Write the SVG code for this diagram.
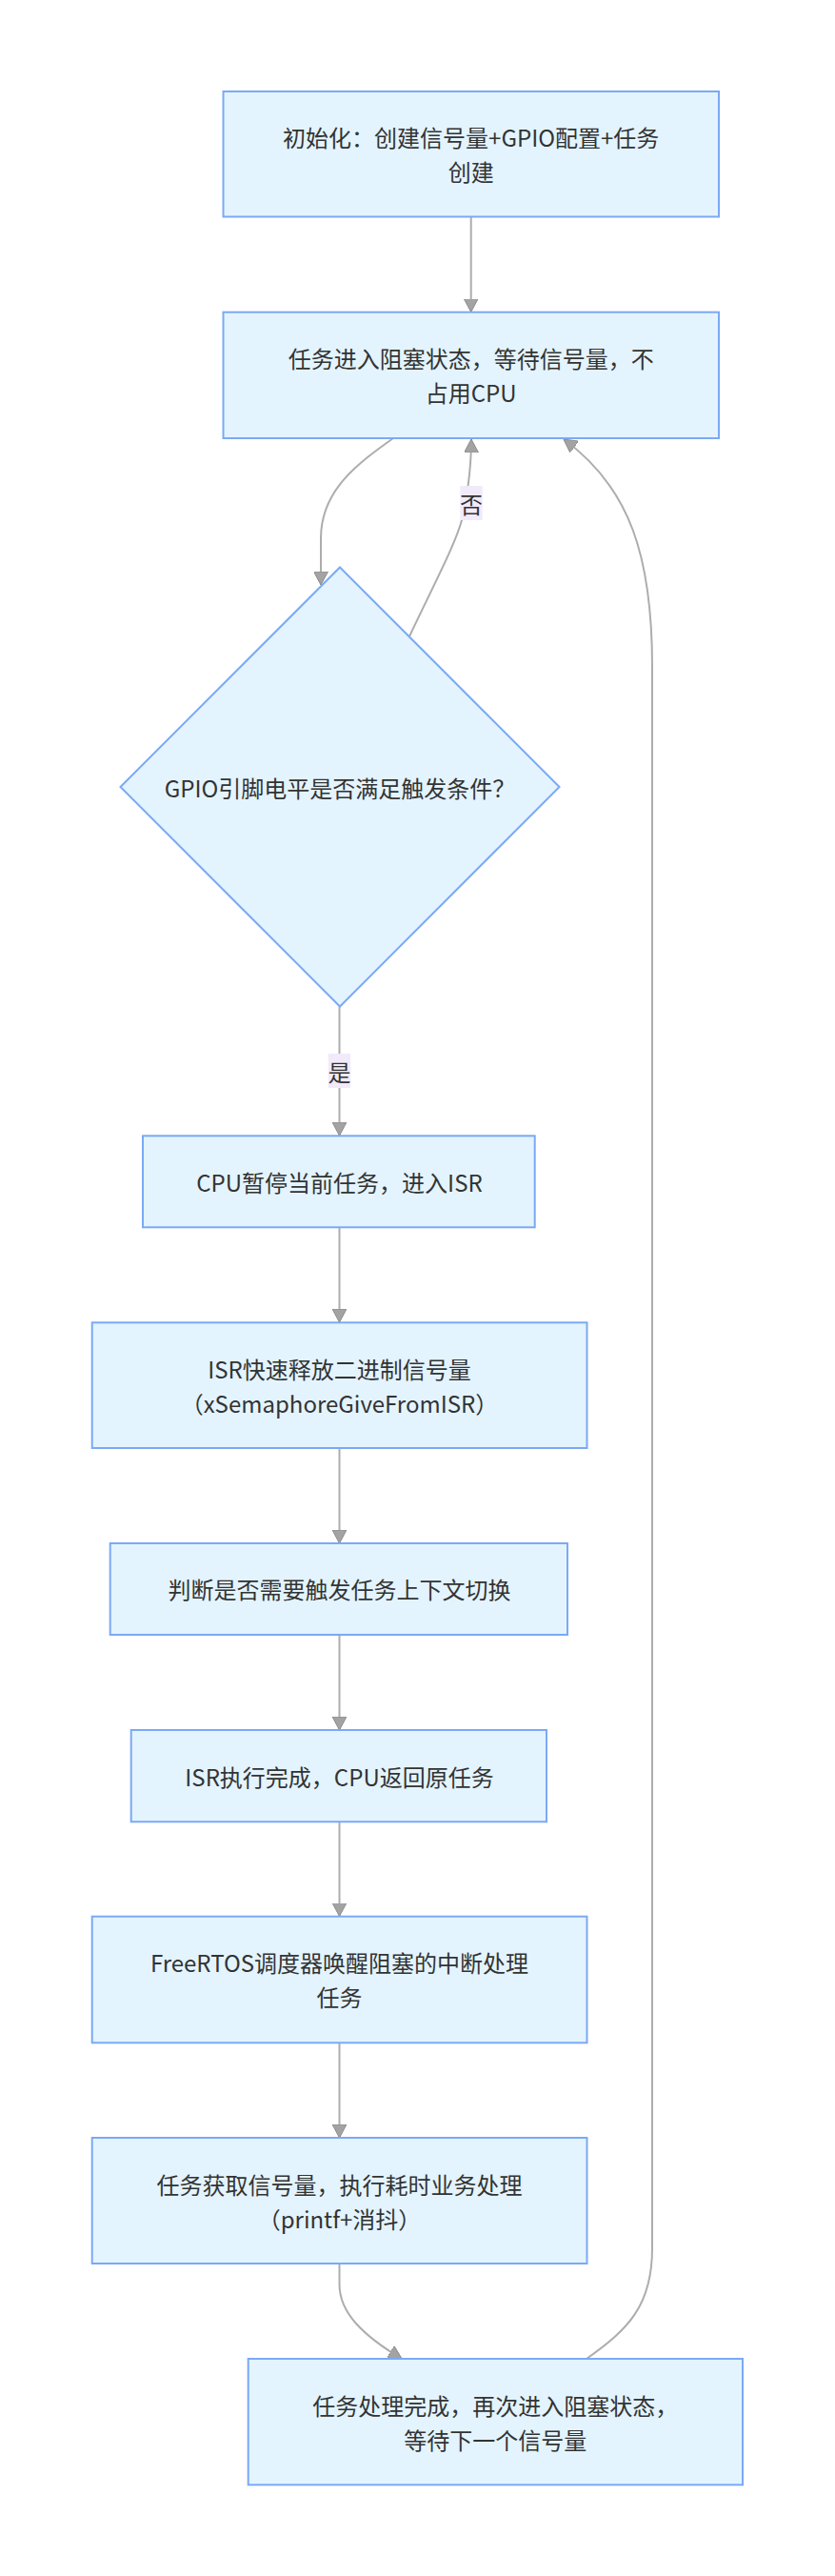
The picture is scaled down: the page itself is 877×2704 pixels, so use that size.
<svg xmlns="http://www.w3.org/2000/svg" width="877" height="2704" viewBox="0 0 877 2704">
<style>
.node rect, .node polygon { fill: #e3f4fe; stroke: #7ba9f6; stroke-width: 2; }
.lbl { font-family: "Noto Sans CJK SC", "Noto Sans", sans-serif; font-size: 24px; fill: #333333; text-anchor: middle; dominant-baseline: central; }
.edge { fill: none; stroke: #adadad; stroke-width: 2; }
.elbl rect { fill: #f1eafb; stroke: none; }
</style>
<defs>
<marker id="arr" viewBox="0 0 14 15" refX="14" refY="7.5" markerWidth="14" markerHeight="15" markerUnits="userSpaceOnUse" orient="auto">
<path d="M0,0 L14,7.5 L0,15 z" fill="#a3a3a3" stroke="#8c8c8c" stroke-width="1"/>
</marker>
</defs>
<rect x="0" y="0" width="877" height="2704" fill="#ffffff"/>

<g id="connectors">
<path class="edge" d="M494.7,228 L494.7,327.5" marker-end="url(#arr)"/>
<path class="edge" d="M413,460 C375,487 337,515 337,565 L337,614" marker-end="url(#arr)"/>
<path class="edge" d="M430,668 C455,615 478,572 485,546 C492,515 495,490 495,461" marker-end="url(#arr)"/>
<path class="edge" d="M356.5,1057 L356.5,1192" marker-end="url(#arr)"/>
<path class="edge" d="M356.5,1288.5 L356.5,1388" marker-end="url(#arr)"/>
<path class="edge" d="M356.5,1520 L356.5,1620" marker-end="url(#arr)"/>
<path class="edge" d="M356.5,1716 L356.5,1816" marker-end="url(#arr)"/>
<path class="edge" d="M356.5,1912.5 L356.5,2011.5" marker-end="url(#arr)"/>
<path class="edge" d="M356.5,2144.5 L356.5,2244" marker-end="url(#arr)"/>
<path class="edge" d="M356.5,2376 L356.5,2398 C356.5,2428 382,2452 422,2476" marker-end="url(#arr)"/>
<path class="edge" d="M616,2476 C660,2445 685,2420 685,2360 L685,700 C685,585 662,512 592,461" marker-end="url(#arr)"/>
<g class="elbl" id="label-no">
<rect x="483.3" y="510" width="23.4" height="36"/>
<text class="lbl" x="495" y="528">否</text>
</g>
<g class="elbl" id="label-yes">
<rect x="344.8" y="1106" width="23.4" height="36"/>
<text class="lbl" x="356.5" y="1124">是</text>
</g>
</g>

<g id="n1" class="node">
<rect x="234.5" y="96" width="520.5" height="131.5"/>
<text class="lbl" x="494.7" y="143.5">初始化：创建信号量+GPIO配置+任务</text>
<text class="lbl" x="494.7" y="179.5">创建</text>
</g>
<g id="n2" class="node">
<rect x="234.5" y="327.7" width="520.5" height="132.3"/>
<text class="lbl" x="494.7" y="375.5">任务进入阻塞状态，等待信号量，不</text>
<text class="lbl" x="494.7" y="411.5">占用CPU</text>
</g>
<g id="n3" class="node">
<polygon points="357,595.5 587.5,826 357,1056.5 126.5,826"/>
<text class="lbl" x="357" y="826">GPIO引脚电平是否满足触发条件？</text>
</g>
<g id="n4" class="node">
<rect x="150" y="1192.3" width="411.7" height="96"/>
<text class="lbl" x="356.5" y="1240">CPU暂停当前任务，进入ISR</text>
</g>
<g id="n5" class="node">
<rect x="96.7" y="1388.3" width="519.8" height="131.7"/>
<text class="lbl" x="356.5" y="1436.5">ISR快速释放二进制信号量</text>
<text class="lbl" x="356.5" y="1472">（xSemaphoreGiveFromISR）</text>
</g>
<g id="n6" class="node">
<rect x="115.7" y="1620" width="480.3" height="96"/>
<text class="lbl" x="356.5" y="1667">判断是否需要触发任务上下文切换</text>
</g>
<g id="n7" class="node">
<rect x="137.7" y="1816" width="436.3" height="96.3"/>
<text class="lbl" x="356.5" y="1864">ISR执行完成，CPU返回原任务</text>
</g>
<g id="n8" class="node">
<rect x="96.7" y="2011.7" width="519.8" height="132.6"/>
<text class="lbl" x="356.5" y="2059.5">FreeRTOS调度器唤醒阻塞的中断处理</text>
<text class="lbl" x="356.5" y="2095.5">任务</text>
</g>
<g id="n9" class="node">
<rect x="96.7" y="2244" width="519.8" height="132"/>
<text class="lbl" x="356.5" y="2292">任务获取信号量，执行耗时业务处理</text>
<text class="lbl" x="356.5" y="2328">（printf+消抖）</text>
</g>
<g id="n10" class="node">
<rect x="260.7" y="2476" width="519.3" height="132.3"/>
<text class="lbl" x="520.3" y="2524">任务处理完成，再次进入阻塞状态，</text>
<text class="lbl" x="520.3" y="2560">等待下一个信号量</text>
</g>
</svg>
